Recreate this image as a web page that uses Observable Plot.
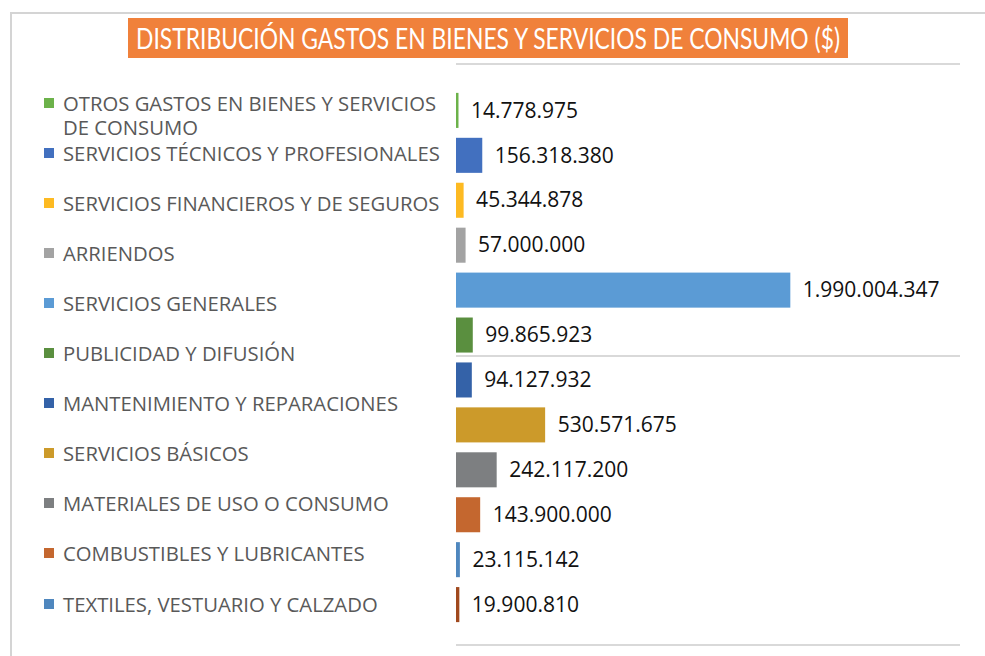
<!DOCTYPE html>
<html><head><meta charset="utf-8">
<script src="https://cdn.jsdelivr.net/npm/d3@7"></script>
<script src="https://cdn.jsdelivr.net/npm/@observablehq/plot@0.6"></script>
<style>
body{margin:0;background:#fff;}
#wrap{position:relative;width:985px;height:656px;overflow:hidden;font-family:"Open Sans",sans-serif;background:#fff;}
.abs{position:absolute;}
.hline{position:absolute;height:2px;background:#d9d9d9;}
#title{position:absolute;left:128px;top:18px;width:720px;height:40px;background:#F0813B;overflow:hidden;}
#titleText{position:absolute;left:0;top:0;white-space:nowrap;color:#fff;font-family:Lato,"Open Sans",sans-serif;font-size:29px;line-height:40px;transform-origin:0 50%;}
.leg{position:absolute;left:44px;font-size:20.3px;line-height:24px;color:#595959;}
.leg .sw{position:absolute;left:0;top:7px;width:10px;height:10px;}
.leg .tx{position:absolute;left:19px;top:0;width:386px;}
#plot{position:absolute;left:0;top:0;}
</style></head><body>
<div id="wrap">
  <div class="abs" style="left:10px;top:12px;width:975px;height:2px;background:#d4d4d4"></div>
  <div class="abs" style="left:10px;top:12px;width:2px;height:644px;background:#d4d4d4"></div>
  <div id="title"><span id="titleText"></span></div>
  <div class="hline" style="left:456px;top:63px;width:504px"></div>
  <div class="hline" style="left:456px;top:355px;width:504px"></div>
  <div class="hline" style="left:456px;top:644px;width:504px"></div>
  <div id="legend"></div>
  <div id="plot"></div>
</div>
<script>
const title = "DISTRIBUCIÓN GASTOS EN BIENES Y SERVICIOS DE CONSUMO ($)";

const legendLabels = [
  "OTROS GASTOS EN BIENES Y SERVICIOS DE CONSUMO",
  "SERVICIOS TÉCNICOS Y PROFESIONALES",
  "SERVICIOS FINANCIEROS Y DE SEGUROS",
  "ARRIENDOS",
  "SERVICIOS GENERALES",
  "PUBLICIDAD Y DIFUSIÓN",
  "MANTENIMIENTO Y REPARACIONES",
  "SERVICIOS BÁSICOS",
  "MATERIALES DE USO O CONSUMO",
  "COMBUSTIBLES Y LUBRICANTES",
  "TEXTILES, VESTUARIO Y CALZADO"
];
const legendColors = [
  "#6CB24A", "#4270BF", "#FDBA22", "#A3A3A3", "#5B9BD5", "#5A8F3F",
  "#3462A8", "#CC9A2A", "#7D7F81", "#C4672F", "#4F87BE"
];

const barValues = [
  14778975, 156318380, 45344878, 57000000, 1990004347, 99865923,
  94127932, 530571675, 242117200, 143900000, 23115142, 19900810
];
const barColors = [
  "#6CB24A", "#4270BF", "#FDBA22", "#A3A3A3", "#5B9BD5", "#5A8F3F",
  "#3462A8", "#CC9A2A", "#7D7F81", "#C4672F", "#4F87BE", "#A0491E"
];

// Title
const tt = document.getElementById("titleText");
tt.textContent = title;
const tw = tt.getBoundingClientRect().width;
const target = 704;
tt.style.transform = `translateX(8px) scaleX(${target / tw})`;

// Legend
const leg = document.getElementById("legend");
legendLabels.forEach((lab, i) => {
  const d = document.createElement("div");
  d.className = "leg";
  d.style.top = (102.5 + i * 50.1 - 12) + "px";
  const sw = document.createElement("div");
  sw.className = "sw";
  sw.style.background = legendColors[i];
  const tx = document.createElement("div");
  tx.className = "tx";
  tx.textContent = lab;
  d.appendChild(sw); d.appendChild(tx);
  leg.appendChild(d);
});

// Bars
const locale = d3.formatLocale({decimal: ",", thousands: ".", grouping: [3], currency: ["$", ""]});
const fmt = locale.format(",");
const data = barValues.map((v, i) => ({i, v}));

const chart = Plot.plot({
  width: 985,
  height: 656,
  marginLeft: 456,
  marginRight: 25,
  marginTop: 83,
  marginBottom: 24,
  style: {background: "transparent", fontFamily: "Open Sans, sans-serif"},
  x: {domain: [0, 3000000000], axis: null},
  y: {domain: d3.range(barValues.length), axis: null, padding: 0.22, round: false},
  color: {domain: d3.range(barColors.length), range: barColors},
  marks: [
    Plot.barX(data, {x: "v", y: "i", fill: "i"}),
    Plot.text(data, {x: "v", y: "i", text: d => fmt(d.v), dx: 12, textAnchor: "start",
      fontSize: 21, fill: "#111"})
  ]
});
document.getElementById("plot").appendChild(chart);
</script>
</body></html>
